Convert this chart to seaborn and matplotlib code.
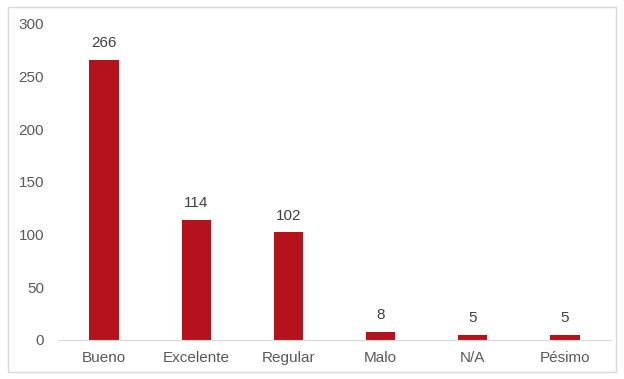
import matplotlib.pyplot as plt
import seaborn as sns
import pandas as pd
from matplotlib.patches import Rectangle

categories = ["Bueno", "Excelente", "Regular", "Malo", "N/A", "Pésimo"]
counts = [266, 114, 102, 8, 5, 5]
y_ticks = [0, 50, 100, 150, 200, 250, 300]

sns.set_style("white")
plt.rcParams['font.family'] = ['Liberation Sans', 'DejaVu Sans']

df = pd.DataFrame({"categoria": categories, "n": counts})

fig = plt.figure(figsize=(6.24, 3.79), dpi=100)
ax = fig.add_axes([0.093, 0.103, 0.886, 0.834])

sns.barplot(data=df, x="categoria", y="n", color="#B5121B", saturation=1,
            width=0.32, linewidth=0, ax=ax)

for i, v in enumerate(counts):
    ax.text(i, v + 9, str(v), ha='center', va='bottom', fontsize=11, color='#404040')

ax.set_ylim(0, 300)
ax.set_xlim(-0.5, len(categories) - 0.5)
ax.set_yticks(y_ticks)
ax.set_xlabel('')
ax.set_ylabel('')
ax.tick_params(axis='both', length=0, labelsize=11, labelcolor='#595959')
ax.tick_params(axis='y', pad=10)
ax.tick_params(axis='x', pad=8)

for side in ['top', 'right', 'left']:
    ax.spines[side].set_visible(False)
ax.spines['bottom'].set_color('#D9D9D9')

# chart area border
fig.patches.append(Rectangle((8 / 624, 7 / 379), 608 / 624, 365 / 379,
                             transform=fig.transFigure, fill=False,
                             edgecolor='#D9D9D9', linewidth=1))

plt.savefig('out.png', dpi=100)
plt.close()
